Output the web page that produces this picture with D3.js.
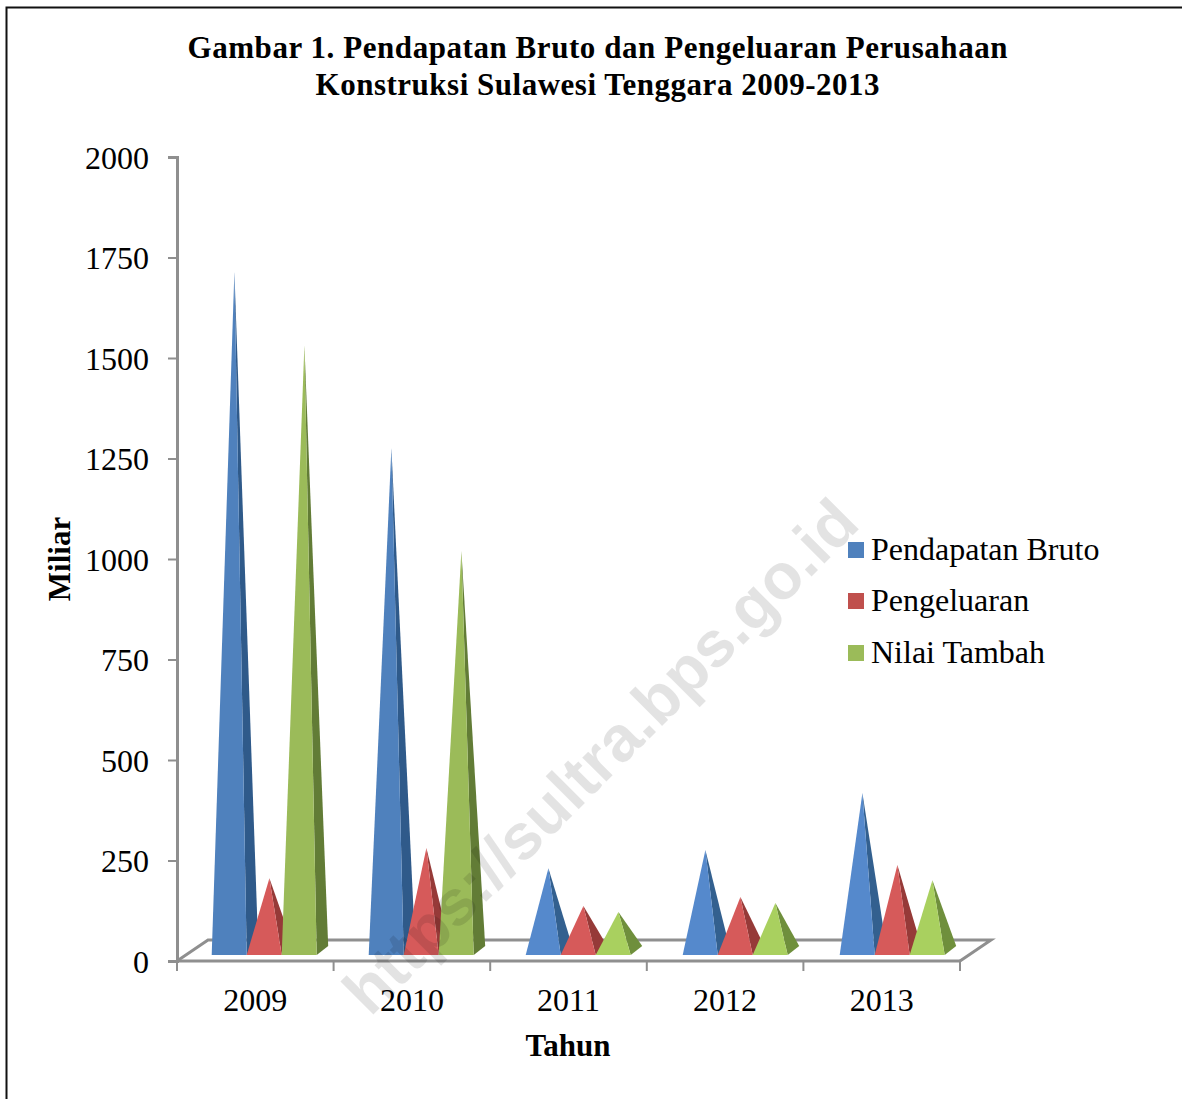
<!DOCTYPE html>
<html><head><meta charset="utf-8">
<script src="https://cdn.jsdelivr.net/npm/d3@7"></script>
<style>html,body{margin:0;padding:0;background:#fff}svg{display:block}text{font-family:"Liberation Serif",serif;fill:#000}</style>
</head><body><div id="c"></div>
<script>
const years=["2009","2010","2011","2012","2013"];
const seriesNames=["Pendapatan Bruto","Pengeluaran","Nilai Tambah"];
const pendapatan=[1714,1276,231,276,418];
const pengeluaran=[206,281,137,159,239];
const nilaiTambah=[1532,1020,122,144,201];
const yTicks=[0,250,500,750,1000,1250,1500,1750,2000];
const seriesValues=[pendapatan,pengeluaran,nilaiTambah];
const shortFront=["#5589cc","#d65a5a","#a9d05f"];
const tallFront=["#4f81bd","#c0504d","#9bbb59"];
const shortSide=["#33608f","#963a38","#6f8f3c"];
const tallSide=["#2f5a8a","#8c3331","#627c36"];
const legendColors=["#4f81bd","#c0504d","#9bbb59"];

const W=1182,H=1099;
const svg=d3.select("#c").append("svg").attr("width",W).attr("height",H);
const y=d3.scaleLinear().domain([0,2000]).range([961,157]);
const x=d3.scaleBand().domain(years).range([177,960]);
const barX=d3.scaleBand().domain(years).range([177.5,962.5]);
const shade=d3.scaleLinear().domain([450,1000]).range([0,1]).clamp(true);
const gray="#8f8f8f";
// frame
svg.append("path").attr("d",`M6.5,${H}V7.5H${W}`).attr("fill","none").attr("stroke","#111").attr("stroke-width",2);
// title
svg.append("text").attr("x",597.5).attr("y",58).attr("text-anchor","middle").attr("font-weight","bold").attr("font-size",31).attr("textLength",820).text("Gambar 1. Pendapatan Bruto dan Pengeluaran Perusahaan");
svg.append("text").attr("x",597.5).attr("y",95).attr("text-anchor","middle").attr("font-weight","bold").attr("font-size",31).attr("textLength",564).text("Konstruksi Sulawesi Tenggara 2009-2013");
// floor
const dx=31,dy=21,base=y(0);
svg.append("path").attr("d",`M177,${base}L${177+dx},${base-dy}H${960+dx}L960,${base}`).attr("fill","none").attr("stroke",gray).attr("stroke-width",3);
// axes
const axY=svg.append("g").attr("transform","translate(177,0)").call(d3.axisLeft(y).tickValues(yTicks).tickSize(9).tickFormat(d3.format("d")).tickPadding(19));
const axX=svg.append("g").attr("transform",`translate(0,${base})`).call(d3.axisBottom(x).tickSize(0).tickPadding(27));
[axY,axX].forEach(a=>{a.selectAll("path").attr("stroke",gray).attr("stroke-width",3);a.selectAll("line").attr("stroke",gray).attr("stroke-width",2);a.selectAll("text").attr("font-size",32).attr("font-family","Liberation Serif");});
axY.selectAll("text").attr("dy","0.35em");
axX.select("path").attr("d","M177,0H960");
axX.selectAll(".b").data(d3.range(6)).enter().append("line").attr("class","b").attr("x1",i=>177+i*x.bandwidth()).attr("x2",i=>177+i*x.bandwidth()).attr("y1",0).attr("y2",10).attr("stroke",gray).attr("stroke-width",2);
// pyramids
const bw=35,depthX=11.5,depthY=9,baseY=955,gapLeft=34.2,apexOff=22.7;
years.forEach((yr,c)=>{
 seriesValues.forEach((vals,s)=>{
  const left=barX(yr)+gapLeft+s*bw, right=left+bw, apexX=left+apexOff, apexY=y(vals[c]);
  const t=shade(vals[c]);
  svg.append("path").attr("d",`M${right},${baseY}L${right+depthX},${baseY-depthY}L${apexX},${apexY}Z`).attr("fill",d3.interpolateRgb(shortSide[s],tallSide[s])(t));
  svg.append("path").attr("d",`M${left},${baseY}L${right},${baseY}L${apexX},${apexY}Z`).attr("fill",d3.interpolateRgb(shortFront[s],tallFront[s])(t));
 });
});
// axis titles
svg.append("text").attr("transform","translate(70,559) rotate(-90)").attr("text-anchor","middle").attr("font-weight","bold").attr("font-size",31).text("Miliar");
svg.append("text").attr("x",568).attr("y",1056).attr("text-anchor","middle").attr("font-weight","bold").attr("font-size",31).text("Tahun");
// legend
const legY=[550,601,653];
seriesNames.forEach((n,i)=>{
 svg.append("rect").attr("x",848).attr("y",legY[i]-8).attr("width",16).attr("height",16).attr("fill",legendColors[i]);
 svg.append("text").attr("x",871).attr("y",legY[i]+10).attr("font-size",32).text(n);
});
// watermark
svg.append("text").attr("transform","translate(616,772) rotate(-45)").attr("text-anchor","middle").attr("font-weight","bold").attr("font-size",64.5).style("font-family","Liberation Sans").style("fill","#000").attr("fill-opacity",.11).text("https://sultra.bps.go.id");
</script></body></html>
